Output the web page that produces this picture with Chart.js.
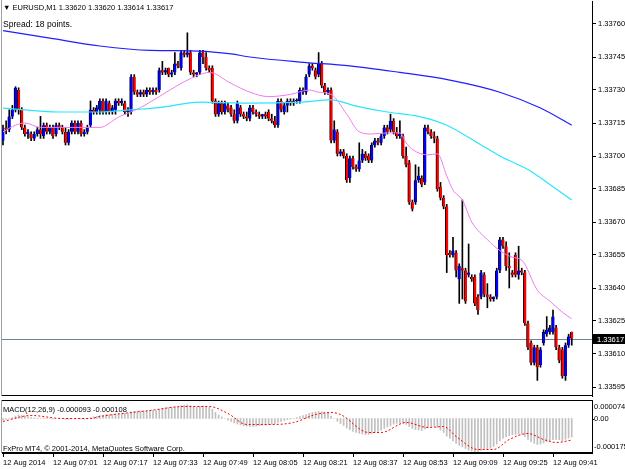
<!DOCTYPE html>
<html>
<head>
<meta charset="utf-8">
<script src="https://cdn.jsdelivr.net/npm/chart.js@4.4.0/dist/chart.umd.min.js"></script>
<style>
  html, body { margin: 0; padding: 0; background: #fff; }
  #wrap { position: relative; width: 625px; height: 469px; overflow: hidden; }
  #main { position: absolute; left: 0; top: 0; }
  #macd { position: absolute; left: 0; top: 400px; }
</style>
</head>
<body>
<div id="wrap">
  <canvas id="main" width="625" height="397"></canvas>
  <canvas id="macd" width="625" height="69"></canvas>
</div>
<script>
// EURUSD M1, prices in points above 1.33600
const BASE = 1.336;

const opens = [
  107,113,112,118,121,130,121,113,110,110,
  108,110,112,109,114,111,113,110,114,113,
  111,106,111,115,111,115,110,111,114,121,
  120,121,125,120,124,120,121,125,124,124,
  120,120,136,129,128,129,128,130,129,130,
  130,139,138,140,137,138,142,140,147,146,
  147,138,137,138,147,145,140,140,125,119,
  124,120,123,122,119,116,122,119,118,117,
  122,120,119,118,119,120,117,116,114,125,
  120,123,125,124,125,125,129,129,137,141,
  139,137,142,132,129,130,107,111,101,102,
  100,90,99,95,94,98,101,100,98,105,
  107,106,109,113,112,116,111,109,109,100,
  97,79,79,89,90,88,113,111,109,108,
  86,81,77,56,55,56,44,49,48,46,
  45,45,36,36,46,37,36,35,36,48,
  62,59,50,47,55,46,48,47,24,15,
  6,13,5,15,19,20,20,22,13,12,
  0,14,20
];
const highs = [
  114,116,121,123,131.5,131,122,114,112,111,
  111,113,118,115,115,114,114,115,115,114,
  113,112,116,116,116,116,112,114,125,122,
  123,126,126,126,125,123,126,126,126,125,
  122,137,137,130,130,130,131,131,131,131,
  140,143,140,140,139,147,143,148,148,156,
  148,139,138,148,148,147,141,141,126,125,
  125,125,124,123,121,125,123,120,120,123,
  123,121,120,119,120,121,119,118,126,126,
  124,126,126,126,126,131,131,137,142,142,
  140,147,143,133,131,131,116,112,103,103,
  101,100,100,96,106,103,102,101,106,108,
  108,110,114,114,119,117,113,116,110,104,
  98,80,96,95,91,114,114,112,111,109,
  88,82,78,57,63,57,51,80,49,60,
  46,46,37,48,47,42,37,36,49,63,
  63,61,56,48,56,59,49,48,25,16,
  14,14,13,21,27,23,30,23,14,13,
  15,19,20
];
const lows = [
  105,110,111,117,120,119,112,109,108,107,
  107,109,108,108,110,110,108,109,112,110,
  105,105,110,110,110,109,109,110,113,119,
  119,119,119,119,119,119,119,123,123,119,
  118,119,128,127,127,127,127,128,128,128,
  129,137,137,136,136,137,140,139,145,145,
  137,136,136,137,142,139,138,124,118,118,
  119,119,120,118,115,115,118,117,116,116,
  119,118,117,117,117,116,115,113,113,120,
  119,120,123,123,124,124,128,128,136,139,
  135,136,131,128,128,106,106,100,100,99,
  88,88,94,93,93,97,98,97,97,104,
  105,105,108,110,111,110,108,108,99,95,
  78,75,78,88,86,87,110,108,106,84,
  80,76,47,54,54,45,33,35,33,45,
  43,32,28,35,36,31,34,34,35,47,
  58,48,40,45,45,44,46,23,12,5,
  5,-2,4,14,18,19,19,12,6,-1,
  -2,13,14
];
const closes = [
  112,112,118,121,131,121,113,110,111,108,
  110,112,110,114,111,113,109,114,113,111,
  106,111,115,111,115,110,111,113,121,120,
  122,125,120,125,120,122,125,124,125,120,
  121,136,129,128,129,128,130,129,130,129,
  139,138,139,137,138,142,141,147,146,147,
  138,137,138,147,145,140,139,125,119,124,
  120,124,121,119,116,124,119,118,117,122,
  120,119,118,119,118,117,116,114,125,121,
  123,125,124,125,125,130,130,136,141,140,
  136,142,132,129,130,107,112,101,102,100,
  89,99,95,94,98,101,99,98,105,107,
  106,109,113,111,116,111,109,110,100,96,
  79,76,89,91,87,113,111,109,108,85,
  81,77,55,55,57,48,50,48,34,47,
  44,33,30,47,37,36,35,36,48,62,
  59,50,49,46,46,48,47,24,13,6,
  13,4,12,20,21,22,27,13,7,0,
  14,18,17
];

// moving averages (bar index, points)
const maSlowIdx = [0,15,31,47,63,73,79,95,111,127,143,159,172,182];
const maSlowVal = [157,153.6,150,148,147.7,146.4,145,142.7,141,138,134.5,129,121.8,114];
const maMidIdx = [0,18,31,41,50,63,79,95,105,113,123,133,142,153,159,169,175,182];
const maMidVal = [121.8,120,120,121,122,124.5,124,124.5,125.5,122.7,120,118,114,105,100,93,87,80];
const maFastIdx = [0,4,7,12,18,25,31,37,44,50,57,63,66,73,79,85,92,98,101,105,110,114,118,123,127,129,131,136,139,142,144,147,150,155,159,163,166,171,175,179,182];
const maFastVal = [111,114,115,113,113,113,113,117.7,122,127,133,137,138,133,129,127,128,130,129,128,119,111,110,110.5,110.5,106,103,100.5,101,91,84.5,80,70,62,57,54,52.7,39,34,29,26];

const priceTicks = [-5,10,25,40,55,70,85,100,115,130,145,160];
const lastPrice = 17;
const timeIdx = [0,16,32,48,64,80,96,112,128,144,160,176];
const timeLabels = ['12 Aug 2014','12 Aug 07:01','12 Aug 07:17','12 Aug 07:33','12 Aug 07:49','12 Aug 08:05',
  '12 Aug 08:21','12 Aug 08:37','12 Aug 08:53','12 Aug 09:09','12 Aug 09:25','12 Aug 09:41'];

// MACD(12,26,9) in millionths
const macdMain = [
  -8,-5,0,5,12,18,15,12,8,5,
  3,2,0,2,0,1,-2,0,1,0,
  -5,-4,-1,-2,0,-2,-3,-1,4,8,
  11,15,16,19,19,20,23,24,25,24,
  24,33,36,37,38,38,39,39,40,40,
  46,50,53,54,55,58,60,64,67,69,
  64,60,57,61,62,60,56,46,30,18,
  8,0,-8,-15,-22,-28,-32,-36,-38,-40,
  -40,-38,-36,-34,-32,-30,-28,-26,-20,-15,
  -10,-6,-3,0,4,10,15,20,26,30,
  33,35,34,30,26,12,0,-14,-25,-35,
  -48,-56,-64,-70,-74,-78,-80,-80,-76,-70,
  -64,-58,-50,-42,-35,-28,-24,-22,-24,-30,
  -40,-50,-55,-58,-60,-52,-45,-40,-38,-45,
  -58,-70,-88,-100,-112,-124,-134,-142,-150,-158,
  -163,-166,-165,-160,-156,-152,-148,-140,-128,-112,
  -100,-92,-86,-82,-80,-78,-78,-90,-104,-116,
  -124,-130,-128,-122,-116,-112,-106,-104,-106,-112,
  -104,-98,-93
];
const signalIdx = [0,9,19,28,31,47,58,66,72,78,85,93,100,105,108,117,121,129,136,141,145,152,157,162,168,173,177,182];
const signalVal = [-15,15,0,0,10,40,60,60,25,-30,-30,-20,20,30,20,-70,-70,-20,-45,-40,-90,-155,-155,-105,-75,-105,-120,-108];
const macdAxisVal = [74, 0, -175];
const macdAxisLabels = ['0.000074', '0.00', '-0.000175'];

const FONT = '"Liberation Sans", Arial, sans-serif';
const FS = 7.5;
const px = v => BASE + v / 1e5;
const xr = { min: -0.32, max: 188.48 };

Chart.defaults.font.family = FONT;
Chart.defaults.font.size = FS;
Chart.defaults.color = '#000';

const pts = (idx, val) => idx.map((x, i) => ({ x: x, y: px(val[i]) }));
const noPad = s => { s.paddingTop = 0; s.paddingBottom = 0; s.paddingLeft = 0; s.paddingRight = 0; };

const mainDecor = {
  id: 'mainDecor',
  beforeDatasetsDraw(chart) {
    const { ctx, chartArea: a, scales: { y } } = chart;
    const yy = Math.round(y.getPixelForValue(px(lastPrice))) + 0.5;
    ctx.save();
    ctx.strokeStyle = '#6e8296';
    ctx.lineWidth = 1;
    ctx.beginPath(); ctx.moveTo(a.left, yy); ctx.lineTo(a.right, yy); ctx.stroke();
    ctx.restore();
  },
  afterDraw(chart) {
    const { ctx, chartArea: a, scales: { y } } = chart;
    ctx.save();
    ctx.strokeStyle = '#a0a0a0';
    ctx.beginPath(); ctx.moveTo(1.5, 0); ctx.lineTo(1.5, a.bottom); ctx.stroke();
    ctx.strokeStyle = '#000';
    ctx.beginPath(); ctx.moveTo(a.left, a.bottom - 0.5); ctx.lineTo(a.right, a.bottom - 0.5); ctx.stroke();
    // header
    ctx.fillStyle = '#000';
    ctx.font = FS + 'px ' + FONT;
    ctx.textBaseline = 'alphabetic';
    ctx.textAlign = 'left';
    ctx.fillText('\u25BC EURUSD,M1 1.33620 1.33620 1.33614 1.33617', 3, 10);
    ctx.font = '8.5px ' + FONT;
    ctx.fillText('Spread: 18 points.', 3, 27);
    // bid tag
    ctx.font = FS + 'px ' + FONT;
    const yy = Math.round(y.getPixelForValue(px(lastPrice)));
    ctx.fillRect(a.right + 1, yy - 5, 32, 10);
    ctx.fillStyle = '#fff';
    ctx.textBaseline = 'middle';
    ctx.fillText(px(lastPrice).toFixed(5), a.right + 5, yy + 0.5);
    ctx.restore();
  }
};

new Chart(document.getElementById('main'), {
  data: {
    datasets: [
      { type: 'line', label: 'MA slow', data: pts(maSlowIdx, maSlowVal), borderColor: '#1f1fff', borderWidth: 1.2,
        pointRadius: 0, cubicInterpolationMode: 'monotone', order: 1 },
      { type: 'line', label: 'MA mid', data: pts(maMidIdx, maMidVal), borderColor: '#28e6ff', borderWidth: 1.2,
        pointRadius: 0, cubicInterpolationMode: 'monotone', order: 1 },
      { type: 'line', label: 'MA fast', data: pts(maFastIdx, maFastVal), borderColor: '#f07af0', borderWidth: 1,
        pointRadius: 0, cubicInterpolationMode: 'monotone', order: 1 },
      { type: 'bar', label: 'body', grouped: false, barThickness: 3, minBarLength: 1,
        data: opens.map((o, i) => ({ x: i, y: [px(o), px(closes[i])] })),
        backgroundColor: opens.map((o, i) => closes[i] >= o ? '#0000ff' : '#ff0000'),
        borderColor: '#000', borderWidth: { left: 1, right: 0, top: 0, bottom: 0 }, borderSkipped: false, order: 2 },
      { type: 'bar', label: 'wick', grouped: false, barThickness: 1,
        data: highs.map((h, i) => ({ x: i, y: [px(lows[i]), px(h)] })),
        backgroundColor: '#000', order: 3 }
    ]
  },
  options: {
    responsive: false,
    animation: false,
    layout: { autoPadding: false, padding: { left: 2, top: 1, right: 0, bottom: 1 } },
    plugins: { legend: { display: false }, tooltip: { enabled: false } },
    scales: {
      x: { type: 'linear', min: xr.min, max: xr.max, offset: false, display: false },
      y: {
        type: 'linear', position: 'right', min: px(160 - 372 / 2.2), max: px(160 + 23 / 2.2),
        afterBuildTicks: s => { s.ticks = priceTicks.map(v => ({ value: px(v) })); },
        afterFit: s => { s.width = 33; noPad(s); },
        ticks: { callback: v => Number(v).toFixed(5), padding: 2, color: '#000' },
        grid: { drawOnChartArea: false, tickLength: 4, color: '#000' },
        border: { display: true, color: '#000' }
      }
    }
  },
  plugins: [mainDecor]
});

const macdDecor = {
  id: 'macdDecor',
  afterDraw(chart) {
    const { ctx, chartArea: a, scales: { y } } = chart;
    ctx.save();
    ctx.strokeStyle = '#a0a0a0';
    ctx.beginPath(); ctx.moveTo(1.5, a.top); ctx.lineTo(1.5, a.bottom); ctx.stroke();
    ctx.strokeStyle = '#000';
    ctx.beginPath();
    ctx.moveTo(a.left, a.top + 0.5); ctx.lineTo(a.right, a.top + 0.5);
    ctx.moveTo(a.left, a.bottom - 0.5); ctx.lineTo(a.right, a.bottom - 0.5);
    ctx.stroke();
    ctx.fillStyle = '#000';
    ctx.font = FS + 'px ' + FONT;
    ctx.textAlign = 'left';
    ctx.textBaseline = 'alphabetic';
    ctx.fillText('MACD(12,26,9) -0.000093 -0.000108', 3, 12);
    ctx.fillText('FxPro MT4, \u00A9 2001-2014, MetaQuotes Software Corp.', 3, 51);
    ctx.textBaseline = 'middle';
    macdAxisVal.forEach((v, i) => {
      const yy = Math.min(Math.max(y.getPixelForValue(v), a.top + 7), a.bottom - 6);
      ctx.fillText(macdAxisLabels[i], a.right + 2, yy);
      if (v === 0) {
        ctx.beginPath(); ctx.moveTo(a.right, Math.round(yy) + 0.5); ctx.lineTo(a.right + 2, Math.round(yy) + 0.5); ctx.stroke();
      }
    });
    ctx.restore();
  }
};

new Chart(document.getElementById('macd'), {
  data: {
    datasets: [
      { type: 'line', label: 'Signal', data: signalIdx.map((x, i) => ({ x: x, y: signalVal[i] })),
        borderColor: '#ff0000', borderWidth: 1, borderDash: [2, 2], pointRadius: 0,
        cubicInterpolationMode: 'monotone', order: 1 },
      { type: 'bar', label: 'MACD', grouped: false, barThickness: 1,
        data: macdMain.map((v, i) => ({ x: i, y: v })), backgroundColor: '#c0c0c0', order: 2 }
    ]
  },
  options: {
    responsive: false,
    animation: false,
    layout: { autoPadding: false, padding: { left: 2, top: 0, right: 0, bottom: 0 } },
    plugins: { legend: { display: false }, tooltip: { enabled: false } },
    scales: {
      x: {
        type: 'linear', min: xr.min, max: xr.max, offset: false,
        afterBuildTicks: s => { s.ticks = timeIdx.map(v => ({ value: v })); },
        afterFit: s => { s.height = 16; noPad(s); },
        ticks: { callback: (v, i) => timeLabels[i], align: 'start', maxRotation: 0, autoSkip: false, padding: 1, color: '#000' },
        grid: { drawOnChartArea: false, offset: false, tickLength: 4, color: '#000' },
        border: { display: true, color: '#000' }
      },
      y: {
        type: 'linear', position: 'right', min: -172.5, max: 92.5,
        afterFit: s => { s.width = 33; noPad(s); },
        ticks: { display: false },
        grid: { display: false },
        border: { display: true, color: '#000' }
      }
    }
  },
  plugins: [macdDecor]
});
</script>
</body>
</html>
